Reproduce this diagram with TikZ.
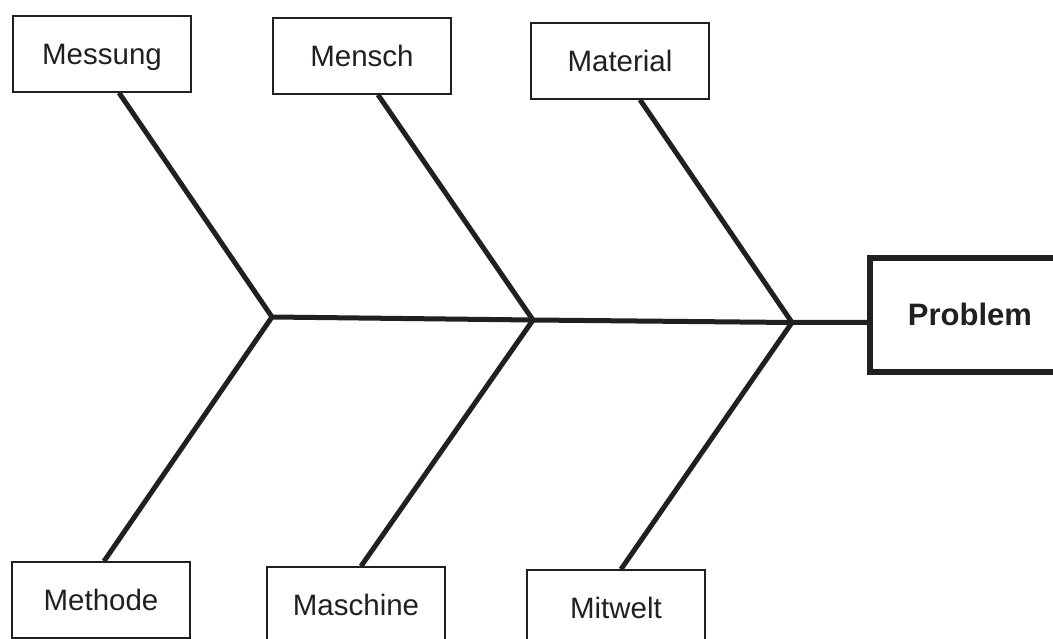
\documentclass[tikz,border=0pt]{standalone}
\usepackage{fontspec}
\setmainfont{Liberation Sans}
\definecolor{ink}{HTML}{231F20}
\tikzset{
  cause/.style={draw=ink, line width=1.5pt, minimum width=178pt, minimum height=76pt,
    inner sep=0pt, text height=21pt, text depth=0pt, text=ink,
    font=\fontsize{29.5}{34}\selectfont},
  effect/.style={draw=ink, line width=6pt, minimum width=200pt, minimum height=113.5pt,
    inner sep=0pt, text height=22pt, text depth=0pt, text=ink,
    font=\fontsize{31}{36}\selectfont\bfseries},
  bone/.style={draw=ink, line width=5pt}
}

\begin{document}
\begin{tikzpicture}[x=1pt,y=-1pt]
  \clip (0,0) rectangle (1053,639);
  % Define nodes
  \node[cause] (messung) at (102,54) {Messung};
  \node[cause] (mensch) at (362,56) {Mensch};
  \node[cause] (material) at (620,61) {Material};
  \node[cause] (methode) at (101,600) {Methode};
  \node[cause] (maschine) at (356,605) {Maschine};
  \node[cause] (mitwelt) at (616,608) {Mitwelt};
  \node[effect] (problem) at (970,315) {Problem};
  % junctions on the spine
  \coordinate (j1) at (272,317);
  \coordinate (j2) at (533,320);
  \coordinate (j3) at (792,322.5);
  % connect causes to the spine
  \draw[bone] ([xshift=17pt]messung.south) -- (j1) -- ([xshift=3pt]methode.north);
  \draw[bone] ([xshift=16pt]mensch.south) -- (j2) -- ([xshift=5pt]maschine.north);
  \draw[bone] ([xshift=20pt]material.south) -- (j3) -- ([xshift=5pt]mitwelt.north);
  % spine to the problem
  \draw[bone] (j1) -- (j2) -- (j3) -- (j3 -| problem.west);
\end{tikzpicture}
\end{document}
